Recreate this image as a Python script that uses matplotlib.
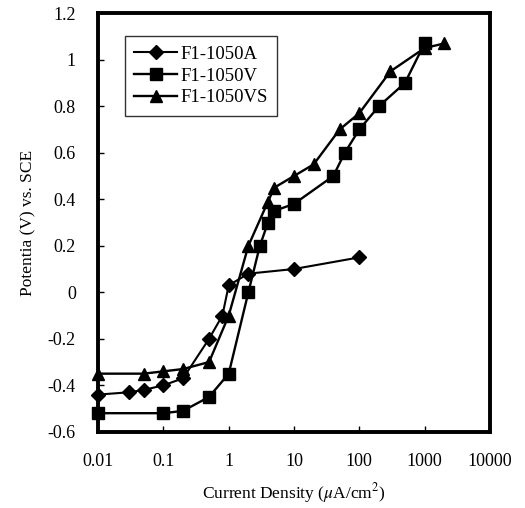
import matplotlib
matplotlib.use("Agg")
import matplotlib.pyplot as plt
from matplotlib.ticker import FixedLocator, FixedFormatter, NullLocator

plt.rcParams['font.family'] = ['Liberation Serif', 'DejaVu Serif']
plt.rcParams['mathtext.fontset'] = 'stix'

a_x = [0.01, 0.03, 0.05, 0.1, 0.2, 0.5, 0.8, 1, 2, 10, 100]
a_y = [-0.44, -0.43, -0.42, -0.40, -0.37, -0.20, -0.10, 0.03, 0.08, 0.10, 0.15]

v_x = [0.01, 0.1, 0.2, 0.5, 1, 2, 3, 4, 5, 10, 40, 60, 100, 200, 500, 1000]
v_y = [-0.52, -0.52, -0.51, -0.45, -0.35, 0.0, 0.20, 0.30, 0.35, 0.38, 0.50, 0.60, 0.70, 0.80, 0.90, 1.07]

vs_x = [0.01, 0.05, 0.1, 0.2, 0.5, 1, 2, 4, 5, 10, 20, 50, 100, 300, 1000, 2000]
vs_y = [-0.35, -0.35, -0.34, -0.33, -0.30, -0.10, 0.20, 0.39, 0.45, 0.50, 0.55, 0.70, 0.77, 0.95, 1.05, 1.07]

labels = ['F1-1050A', 'F1-1050V', 'F1-1050VS']
x_ticks = [0.01, 0.1, 1, 10, 100, 1000, 10000]
x_tick_labels = ['0.01', '0.1', '1', '10', '100', '1000', '10000']
y_ticks = [-0.6, -0.4, -0.2, 0, 0.2, 0.4, 0.6, 0.8, 1, 1.2]
y_tick_labels = ['-0.6', '-0.4', '-0.2', '0', '0.2', '0.4', '0.6', '0.8', '1', '1.2']

fig = plt.figure(figsize=(5.25, 5.08), dpi=100)
ax = fig.add_axes([0.187, 0.150, 0.746, 0.824])

ax.plot(a_x, a_y, color='black', lw=1.5, marker='D', ms=7.5, label=labels[0], clip_on=False)
ax.plot(v_x, v_y, color='black', lw=1.7, marker='s', ms=8.5, label=labels[1], clip_on=False)
ax.plot(vs_x, vs_y, color='black', lw=1.7, marker='^', ms=9, label=labels[2], clip_on=False)

ax.set_xscale('log')
ax.set_xlim(0.01, 10000)
ax.set_ylim(-0.6, 1.2)
ax.xaxis.set_major_locator(FixedLocator(x_ticks))
ax.xaxis.set_major_formatter(FixedFormatter(x_tick_labels))
ax.xaxis.set_minor_locator(NullLocator())
ax.yaxis.set_major_locator(FixedLocator(y_ticks))
ax.yaxis.set_major_formatter(FixedFormatter(y_tick_labels))
ax.tick_params(direction='in', length=4, width=1, labelsize=13)
ax.tick_params(axis='x', pad=15)
ax.tick_params(axis='y', pad=16)

for s in ax.spines.values():
    s.set_linewidth(2.8)

ax.set_xlabel(r'Current Density ($\mu$A/cm$^2$)', fontsize=12.5, labelpad=8)
ax.set_ylabel('Potentia (V) vs. SCE', fontsize=12.5, labelpad=8)

leg = ax.legend(loc='upper left', bbox_to_anchor=(0.068, 0.945), frameon=True, fancybox=False,
                edgecolor='black', fontsize=13.5, handlelength=2.3, borderpad=0.5,
                labelspacing=0.25, handletextpad=0.15, borderaxespad=0)
leg.get_frame().set_linewidth(1.0)

fig.savefig('out.png', dpi=100)
